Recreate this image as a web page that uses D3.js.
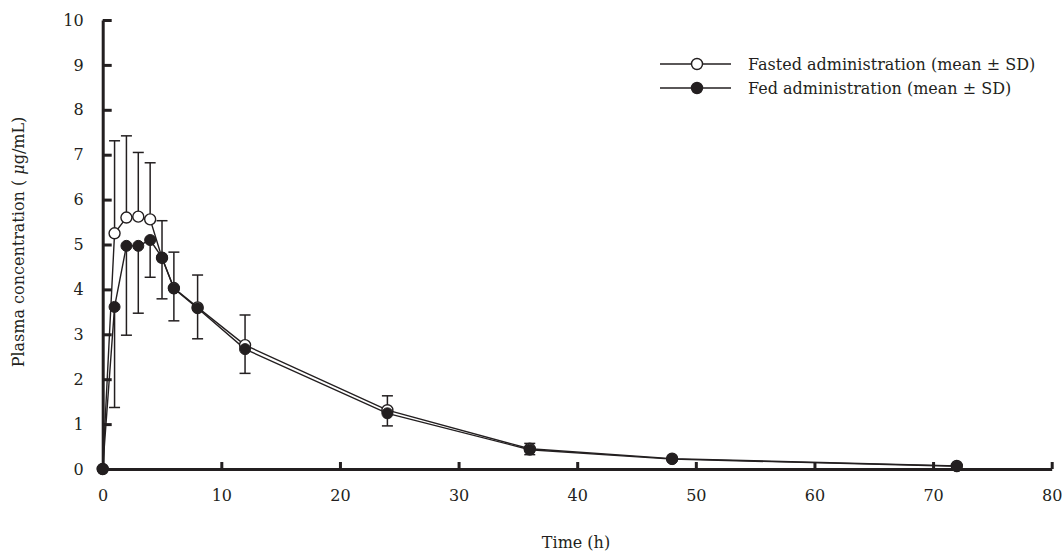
<!DOCTYPE html>
<html>
<head>
<meta charset="utf-8">
<script src="https://cdn.jsdelivr.net/npm/d3@7"></script>
<style>
  html, body { margin: 0; padding: 0; background: #fff; }
  svg { display: block; }
  text { font-family: "DejaVu Serif", "Liberation Serif", serif; fill: #231f20; }
</style>
</head>
<body>
<svg id="chart" width="1062" height="551"></svg>
<script>
// ---- data ----
const times = [0, 1, 2, 3, 4, 5, 6, 8, 12, 24, 36, 48, 72];
const fastedMean = [0, 5.25, 5.60, 5.62, 5.56, 4.70, 4.03, 3.60, 2.76, 1.31, 0.45, 0.23, 0.07];
const fastedSD   = [0, 2.06, 1.82, 1.43, 1.26, 0.83, 0.80, 0.72, 0.67, 0.32, 0.12, 0, 0];
const fedMean    = [0, 3.61, 4.97, 4.97, 5.10, 4.71, 4.02, 3.58, 2.67, 1.24, 0.43, 0.22, 0.06];
const fedSD      = [0, 2.24, 1.99, 1.50, 0.83, 0.92, 0.72, 0.68, 0.54, 0.28, 0.11, 0, 0];
const xTicks = [0, 10, 20, 30, 40, 50, 60, 70, 80];
const yTicks = [0, 1, 2, 3, 4, 5, 6, 7, 8, 9, 10];
const seriesNames = ["Fasted administration (mean \u00B1 SD)", "Fed administration (mean \u00B1 SD)"];
const xTitle = "Time (h)";

// ---- layout ----
const ink = "#231f20";
const fs = 16;
const svg = d3.select("#chart");
const x = d3.scaleLinear().domain([0, 80]).range([102.7, 1051.7]);
const y = d3.scaleLinear().domain([0, 10]).range([469, 20]);

const fasted = times.map((t, i) => ({ t, m: fastedMean[i], sd: fastedSD[i] }));
const fed = times.map((t, i) => ({ t, m: fedMean[i], sd: fedSD[i] }));

// ---- axes ----
const xAxis = d3.axisBottom(x).tickValues(xTicks).tickSize(-7).tickSizeOuter(0).tickPadding(21);
const yAxis = d3.axisLeft(y).tickValues(yTicks).tickSize(-9).tickSizeOuter(0).tickPadding(19);

const gx = svg.append("g").attr("transform", `translate(0,${y(0)})`).call(xAxis);
const gy = svg.append("g").attr("transform", `translate(${x(0)},0)`).call(yAxis);
[gx, gy].forEach(g => {
  g.select(".domain").attr("stroke", ink).attr("stroke-width", 3);
  g.selectAll(".tick line").attr("stroke", ink).attr("stroke-width", 3);
  g.selectAll(".tick text").attr("font-family", "DejaVu Serif").attr("font-size", fs).attr("fill", ink);
});
gy.selectAll(".tick").filter(d => d === 0).select("line").remove();
gx.selectAll(".tick").filter(d => d === 0).select("line").remove();

// axis titles
svg.append("text").attr("x", 576).attr("y", 548).attr("text-anchor", "middle")
  .attr("font-size", fs).text(xTitle);
const yl = svg.append("text").attr("transform", "translate(24,242) rotate(-90)")
  .attr("text-anchor", "middle").attr("font-size", fs);
yl.append("tspan").text("Plasma concentration ( ");
yl.append("tspan").attr("font-style", "italic").text("\u03BC");
yl.append("tspan").text("g/mL)");

// ---- error bars (fasted up, fed down) ----
const capW = 5.5;
function bars(data, dir) {
  const g = svg.append("g").attr("stroke", ink).attr("stroke-width", 1.5).attr("fill", "none");
  data.filter(d => d.sd > 0).forEach(d => {
    const cx = x(d.t), y0 = y(d.m), y1 = y(d.m + dir * d.sd);
    g.append("line").attr("x1", cx).attr("x2", cx).attr("y1", y0).attr("y2", y1);
    g.append("line").attr("x1", cx - capW).attr("x2", cx + capW).attr("y1", y1).attr("y2", y1);
  });
}
bars(fasted, 1);
bars(fed, -1);

// ---- lines ----
const line = d3.line().x(d => x(d.t)).y(d => y(d.m));
svg.append("path").datum(fasted).attr("d", line).attr("fill", "none").attr("stroke", ink).attr("stroke-width", 1.4);
svg.append("path").datum(fed).attr("d", line).attr("fill", "none").attr("stroke", ink).attr("stroke-width", 1.4);

// ---- markers ----
const r = 5.5;
svg.append("g").selectAll("circle").data(fasted).join("circle")
  .attr("cx", d => x(d.t)).attr("cy", d => y(d.m)).attr("r", r)
  .attr("fill", "#fff").attr("stroke", ink).attr("stroke-width", 1.4);
svg.append("g").selectAll("circle").data(fed).join("circle")
  .attr("cx", d => x(d.t)).attr("cy", d => y(d.m)).attr("r", r)
  .attr("fill", ink).attr("stroke", ink).attr("stroke-width", 1);

// ---- legend ----
const legend = svg.append("g");
const legendRows = [
  { name: seriesNames[0], fill: "#fff", yy: 64 },
  { name: seriesNames[1], fill: ink, yy: 88 }
];
legendRows.forEach(row => {
  legend.append("line").attr("x1", 660).attr("x2", 731).attr("y1", row.yy).attr("y2", row.yy)
    .attr("stroke", ink).attr("stroke-width", 1.3);
  legend.append("circle").attr("cx", 697).attr("cy", row.yy).attr("r", r)
    .attr("fill", row.fill).attr("stroke", ink).attr("stroke-width", 1.4);
  legend.append("text").attr("x", 748).attr("y", row.yy).attr("dy", "0.35em")
    .attr("font-size", fs).text(row.name);
});
</script>
</body>
</html>
